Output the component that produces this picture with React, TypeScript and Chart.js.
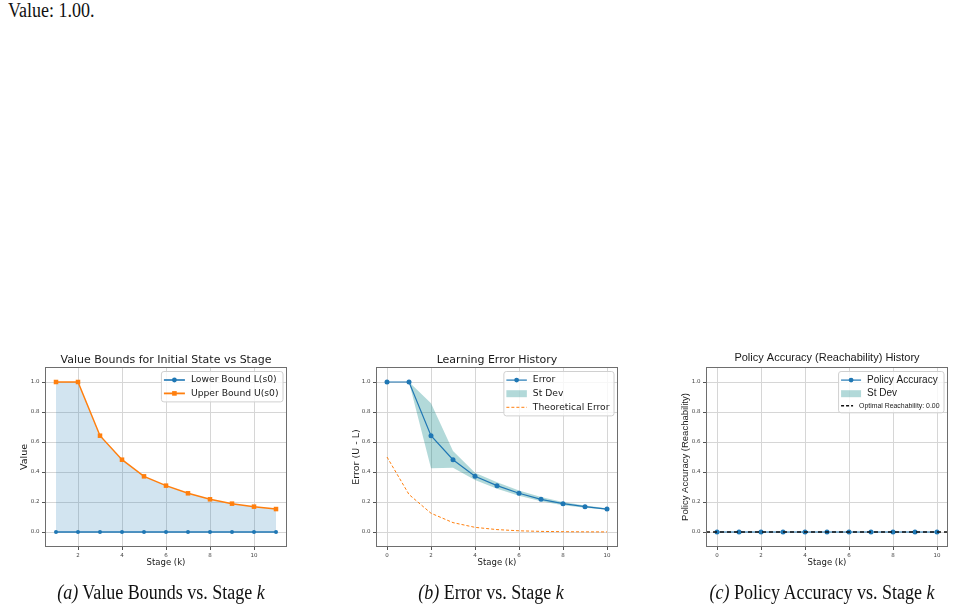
import React, { useEffect, useRef } from "react";
import { Chart, registerables } from "chart.js";

Chart.register(...registerables);

// ---- data -------------------------------------------------------------

// (a) value bounds of the initial state per stage
const stagesA = [1, 2, 3, 4, 5, 6, 7, 8, 9, 10, 11];
const lowerBound = [0, 0, 0, 0, 0, 0, 0, 0, 0, 0, 0];
const upperBound = [1.0, 1.0, 0.642, 0.482, 0.371, 0.309, 0.258, 0.218, 0.189, 0.169, 0.153];

// (b) learning error history
const stagesB = [0, 1, 2, 3, 4, 5, 6, 7, 8, 9, 10];
const errorMean = [1.0, 1.0, 0.642, 0.482, 0.371, 0.309, 0.258, 0.218, 0.189, 0.169, 0.153];
const errorUpper = [1.0, 1.0, 0.858, 0.54, 0.395, 0.332, 0.276, 0.233, 0.2, 0.177, 0.159];
const errorLower = [1.0, 1.0, 0.425, 0.428, 0.347, 0.288, 0.242, 0.205, 0.179, 0.162, 0.148];
const theoreticalError = [0.5, 0.25, 0.125, 0.0625, 0.031, 0.016, 0.008, 0.004, 0.002, 0.001, 0.0005];

// (c) policy accuracy history
const stagesC = [0, 1, 2, 3, 4, 5, 6, 7, 8, 9, 10];
const policyAccuracy = [0, 0, 0, 0, 0, 0, 0, 0, 0, 0, 0];
const accuracyUpper = [0, 0, 0, 0, 0, 0, 0, 0, 0, 0, 0];
const accuracyLower = [0, 0, 0, 0, 0, 0, 0, 0, 0, 0, 0];
const optimalReachability = 0.0;

// axis ticks
const xTicksA = [2, 4, 6, 8, 10];
const xTicksBC = [0, 2, 4, 6, 8, 10];
const yTicks = [0.0, 0.2, 0.4, 0.6, 0.8, 1.0];

// ---- styling ----------------------------------------------------------

const BLUE = "#1f77b4";
const ORANGE = "#ff7f0e";
const BAND = "rgba(0,128,128,0.3)";
const DEJAVU = "'DejaVu Sans', sans-serif";
const ARIAL = "'Liberation Sans', Arial, sans-serif";
const SERIF = "'Liberation Serif', 'Times New Roman', serif";

const Y_AXIS_W = 45;
const X_AXIS_H = 35;
const PAD_TOP = 27;
const PAD_RIGHT = 15;

type LegendItem = {
  label: string;
  kind: "line" | "patch";
  color: string;
  marker?: "circle" | "rect";
  dash?: number[];
  lineWidth?: number;
  font: string;
  rowH: number;
  handleLen: number;
};

type Deco = {
  title: string;
  titleFont: string;
  titleDy: number;
  xLabel: string;
  xLabelFont: string;
  xLabelDy: number;
  yLabel: string;
  yLabelFont: string;
  yLabelDx: number;
  tickFamily: string;
  legend: LegendItem[];
};

const pts = (xs: number[], ys: number[]) => xs.map((x, i) => ({ x, y: ys[i] }));

function drawMarker(ctx: CanvasRenderingContext2D, kind: string, x: number, y: number, color: string) {
  ctx.fillStyle = color;
  if (kind === "rect") {
    ctx.fillRect(x - 2.3, y - 2.3, 4.6, 4.6);
  } else {
    ctx.beginPath();
    ctx.arc(x, y, 2.4, 0, Math.PI * 2);
    ctx.fill();
  }
}

function decoPlugin(d: Deco) {
  return {
    id: "deco",
    afterDraw(chart: any) {
      const ctx: CanvasRenderingContext2D = chart.ctx;
      const a = chart.chartArea;
      const cx = (a.left + a.right) / 2;
      ctx.save();

      // axes frame
      ctx.strokeStyle = "#6e6e6e";
      ctx.lineWidth = 1;
      ctx.setLineDash([]);
      ctx.strokeRect(a.left + 0.5, a.top + 0.5, a.right - a.left - 1, a.bottom - a.top - 1);

      // title and axis labels
      ctx.fillStyle = "#1a1a1a";
      ctx.textAlign = "center";
      ctx.textBaseline = "middle";
      ctx.font = d.titleFont;
      ctx.fillText(d.title, cx, a.top + d.titleDy);
      ctx.font = d.xLabelFont;
      ctx.fillText(d.xLabel, cx, a.bottom + d.xLabelDy);
      ctx.save();
      ctx.translate(a.left - d.yLabelDx, (a.top + a.bottom) / 2);
      ctx.rotate(-Math.PI / 2);
      ctx.font = d.yLabelFont;
      ctx.fillText(d.yLabel, 0, 0);
      ctx.restore();

      // legend box in the upper right corner
      const padL = 2.5, padR = 4.5, padV = 1.8, gap = 6;
      let maxW = 0;
      let boxH = padV * 2;
      for (const it of d.legend) {
        ctx.font = it.font;
        maxW = Math.max(maxW, it.handleLen + gap + ctx.measureText(it.label).width);
        boxH += it.rowH;
      }
      const boxW = padL + maxW + padR;
      const x0 = a.right - 4 - boxW;
      const y0 = a.top + 4.5;
      ctx.beginPath();
      if ((ctx as any).roundRect) (ctx as any).roundRect(x0, y0, boxW, boxH, 2.5);
      else ctx.rect(x0, y0, boxW, boxH);
      ctx.fillStyle = "rgba(255,255,255,0.8)";
      ctx.fill();
      ctx.strokeStyle = "#d0d0d0";
      ctx.lineWidth = 1;
      ctx.stroke();

      let y = y0 + padV;
      for (const it of d.legend) {
        const cy = y + it.rowH / 2;
        const hx0 = x0 + padL;
        const hx1 = hx0 + it.handleLen;
        if (it.kind === "patch") {
          ctx.fillStyle = it.color;
          ctx.fillRect(hx0, cy - 3.5, it.handleLen, 7);
        } else {
          ctx.strokeStyle = it.color;
          ctx.lineWidth = it.lineWidth ?? 1.5;
          ctx.setLineDash(it.dash ?? []);
          ctx.beginPath();
          ctx.moveTo(hx0, cy);
          ctx.lineTo(hx1, cy);
          ctx.stroke();
          ctx.setLineDash([]);
          if (it.marker) drawMarker(ctx, it.marker, (hx0 + hx1) / 2, cy, it.color);
        }
        ctx.font = it.font;
        ctx.fillStyle = "#1a1a1a";
        ctx.textAlign = "left";
        ctx.textBaseline = "middle";
        ctx.fillText(it.label, hx1 + gap, cy);
        y += it.rowH;
      }
      ctx.restore();
    },
  };
}

function makeScales(xMin: number, xMax: number, xTicks: number[], family: string) {
  const grid = { color: "#d6d6d6", lineWidth: 1, tickLength: 3, tickColor: "#555", drawTicks: true };
  const tickFont = { size: 5.5, family };
  return {
    x: {
      type: "linear",
      min: xMin,
      max: xMax,
      afterBuildTicks: (s: any) => {
        s.ticks = xTicks.map((v) => ({ value: v }));
      },
      afterFit: (s: any) => {
        s.height = X_AXIS_H;
      },
      ticks: { font: tickFont, color: "#444", padding: 2.5, maxRotation: 0, autoSkip: false, callback: (v: any) => String(v) },
      grid,
      border: { display: false },
    },
    y: {
      type: "linear",
      min: -0.1,
      max: 1.1,
      afterBuildTicks: (s: any) => {
        s.ticks = yTicks.map((v) => ({ value: v }));
      },
      afterFit: (s: any) => {
        s.width = Y_AXIS_W;
      },
      ticks: { font: tickFont, color: "#444", padding: 2.5, autoSkip: false, callback: (v: any) => Number(v).toFixed(1) },
      grid,
      border: { display: false },
    },
  };
}

type PanelProps = {
  left: number;
  top: number;
  plotW: number;
  plotH: number;
  datasets: any[];
  xMin: number;
  xMax: number;
  xTicks: number[];
  deco: Deco;
};

function Panel({ left, top, plotW, plotH, datasets, xMin, xMax, xTicks, deco }: PanelProps) {
  const ref = useRef<HTMLCanvasElement | null>(null);
  const width = plotW + Y_AXIS_W + PAD_RIGHT;
  const height = plotH + PAD_TOP + X_AXIS_H;

  useEffect(() => {
    if (!ref.current) return;
    const chart = new Chart(ref.current, {
      type: "line",
      data: { datasets },
      options: {
        animation: false,
        responsive: false,
        maintainAspectRatio: false,
        devicePixelRatio: 1,
        layout: { padding: { left: 0, top: PAD_TOP, right: PAD_RIGHT, bottom: 0 } },
        scales: makeScales(xMin, xMax, xTicks, deco.tickFamily) as any,
        plugins: { legend: { display: false }, tooltip: { enabled: false }, title: { display: false } },
        elements: { line: { tension: 0 } },
      },
      plugins: [decoPlugin(deco)],
    } as any);
    return () => chart.destroy();
  }, []);

  return (
    <canvas
      ref={ref}
      width={width}
      height={height}
      style={{ position: "absolute", left: left - Y_AXIS_W, top: top - PAD_TOP, width, height }}
    />
  );
}

const serifText = (cx: number, top: number): React.CSSProperties => ({
  position: "absolute",
  left: cx - 250,
  width: 500,
  top,
  textAlign: "center",
  fontFamily: SERIF,
  fontSize: 20,
  lineHeight: "20px",
  color: "#111",
  transform: "scaleX(0.9)",
  whiteSpace: "nowrap",
});

export default function App() {
  const dsA = [
    {
      label: "Lower Bound L(s0)",
      data: pts(stagesA, lowerBound),
      borderColor: BLUE,
      backgroundColor: BLUE,
      borderWidth: 1.6,
      pointRadius: 2,
      pointBorderWidth: 0,
      pointBackgroundColor: BLUE,
      fill: false,
    },
    {
      label: "Upper Bound U(s0)",
      data: pts(stagesA, upperBound),
      borderColor: ORANGE,
      backgroundColor: "rgba(31,119,180,0.2)",
      borderWidth: 1.5,
      pointStyle: "rect",
      pointRadius: 3.2,
      pointBorderWidth: 0,
      pointBackgroundColor: ORANGE,
      fill: 0,
    },
  ];

  const dsB = [
    {
      label: "Error",
      data: pts(stagesB, errorMean),
      borderColor: BLUE,
      borderWidth: 1.2,
      pointRadius: 2.5,
      pointBorderWidth: 0,
      pointBackgroundColor: BLUE,
      fill: false,
    },
    {
      label: "Theoretical Error",
      data: pts(stagesB, theoreticalError),
      borderColor: ORANGE,
      borderWidth: 1,
      borderDash: [3, 2],
      pointRadius: 0,
      fill: false,
    },
    {
      label: "St Dev",
      data: pts(stagesB, errorUpper),
      borderWidth: 0,
      pointRadius: 0,
      backgroundColor: BAND,
      fill: 3,
    },
    {
      label: "St Dev lower",
      data: pts(stagesB, errorLower),
      borderWidth: 0,
      pointRadius: 0,
      fill: false,
    },
  ];

  const dsC = [
    {
      label: "Optimal Reachability",
      data: [
        { x: -0.5, y: optimalReachability },
        { x: 10.5, y: optimalReachability },
      ],
      borderColor: "#111",
      borderWidth: 1.5,
      borderDash: [4, 3],
      pointRadius: 0,
      fill: false,
    },
    {
      label: "Policy Accuracy",
      data: pts(stagesC, policyAccuracy),
      borderColor: BLUE,
      borderWidth: 1.2,
      pointRadius: 2.5,
      pointBorderWidth: 0,
      pointBackgroundColor: BLUE,
      fill: false,
    },
    {
      label: "St Dev",
      data: pts(stagesC, accuracyUpper),
      borderWidth: 0,
      pointRadius: 0,
      backgroundColor: BAND,
      fill: 3,
    },
    {
      label: "St Dev lower",
      data: pts(stagesC, accuracyLower),
      borderWidth: 0,
      pointRadius: 0,
      fill: false,
    },
  ];

  const decoA: Deco = {
    title: "Value Bounds for Initial State vs Stage",
    titleFont: `11px ${DEJAVU}`,
    titleDy: -7,
    xLabel: "Stage (k)",
    xLabelFont: `8.5px ${DEJAVU}`,
    xLabelDy: 16,
    yLabel: "Value",
    yLabelFont: `9.5px ${DEJAVU}`,
    yLabelDx: 20,
    tickFamily: DEJAVU,
    legend: [
      { label: "Lower Bound L(s0)", kind: "line", color: BLUE, marker: "circle", lineWidth: 1.6, font: `9.2px ${DEJAVU}`, rowH: 13.4, handleLen: 21 },
      { label: "Upper Bound U(s0)", kind: "line", color: ORANGE, marker: "rect", lineWidth: 1.8, font: `9.2px ${DEJAVU}`, rowH: 13.4, handleLen: 21 },
    ],
  };

  const decoB: Deco = {
    title: "Learning Error History",
    titleFont: `11px ${DEJAVU}`,
    titleDy: -7,
    xLabel: "Stage (k)",
    xLabelFont: `8.5px ${DEJAVU}`,
    xLabelDy: 16,
    yLabel: "Error (U - L)",
    yLabelFont: `9.5px ${DEJAVU}`,
    yLabelDx: 19.5,
    tickFamily: DEJAVU,
    legend: [
      { label: "Error", kind: "line", color: BLUE, marker: "circle", lineWidth: 1.2, font: `9.2px ${DEJAVU}`, rowH: 13.6, handleLen: 20.5 },
      { label: "St Dev", kind: "patch", color: BAND, font: `9.2px ${DEJAVU}`, rowH: 13.6, handleLen: 20.5 },
      { label: "Theoretical Error", kind: "line", color: ORANGE, dash: [3, 2], lineWidth: 1, font: `9.2px ${DEJAVU}`, rowH: 13.6, handleLen: 20.5 },
    ],
  };

  const decoC: Deco = {
    title: "Policy Accuracy (Reachability) History",
    titleFont: `11px ${ARIAL}`,
    titleDy: -8.7,
    xLabel: "Stage (k)",
    xLabelFont: `8.5px ${DEJAVU}`,
    xLabelDy: 16,
    yLabel: "Policy Accuracy (Reachability)",
    yLabelFont: `9.5px ${ARIAL}`,
    yLabelDx: 21,
    tickFamily: DEJAVU,
    legend: [
      { label: "Policy Accuracy", kind: "line", color: BLUE, marker: "circle", lineWidth: 1.2, font: `10px ${ARIAL}`, rowH: 13.6, handleLen: 20 },
      { label: "St Dev", kind: "patch", color: BAND, font: `10px ${ARIAL}`, rowH: 13.6, handleLen: 20 },
      {
        label: `Optimal Reachability: ${optimalReachability.toFixed(2)}`,
        kind: "line",
        color: "#111",
        dash: [3, 2],
        lineWidth: 1.3,
        font: `6.9px ${ARIAL}`,
        rowH: 10.5,
        handleLen: 12,
      },
    ],
  };

  return (
    <div
      style={{
        position: "fixed",
        left: 0,
        top: 0,
        width: 980,
        height: 609,
        background: "#fff",
        overflow: "hidden",
      }}
    >
      <div
        style={{
          position: "absolute",
          left: 8,
          top: 0,
          fontFamily: SERIF,
          fontSize: 20,
          lineHeight: "20px",
          color: "#111",
          transform: "scaleX(0.9)",
          transformOrigin: "left center",
          whiteSpace: "nowrap",
        }}
      >
        Value: 1.00.
      </div>

      <Panel left={45} top={367} plotW={242} plotH={180} datasets={dsA} xMin={0.5} xMax={11.5} xTicks={xTicksA} deco={decoA} />
      <Panel left={376} top={367} plotW={242} plotH={180} datasets={dsB} xMin={-0.5} xMax={10.5} xTicks={xTicksBC} deco={decoB} />
      <Panel left={706} top={367} plotW={242} plotH={180} datasets={dsC} xMin={-0.5} xMax={10.5} xTicks={xTicksBC} deco={decoC} />

      <div style={serifText(161, 582)}>
        <i>(a)</i> Value Bounds vs. Stage <i>k</i>
      </div>
      <div style={serifText(491, 582)}>
        <i>(b)</i> Error vs. Stage <i>k</i>
      </div>
      <div style={serifText(822, 582)}>
        <i>(c)</i> Policy Accuracy vs. Stage <i>k</i>
      </div>
    </div>
  );
}
